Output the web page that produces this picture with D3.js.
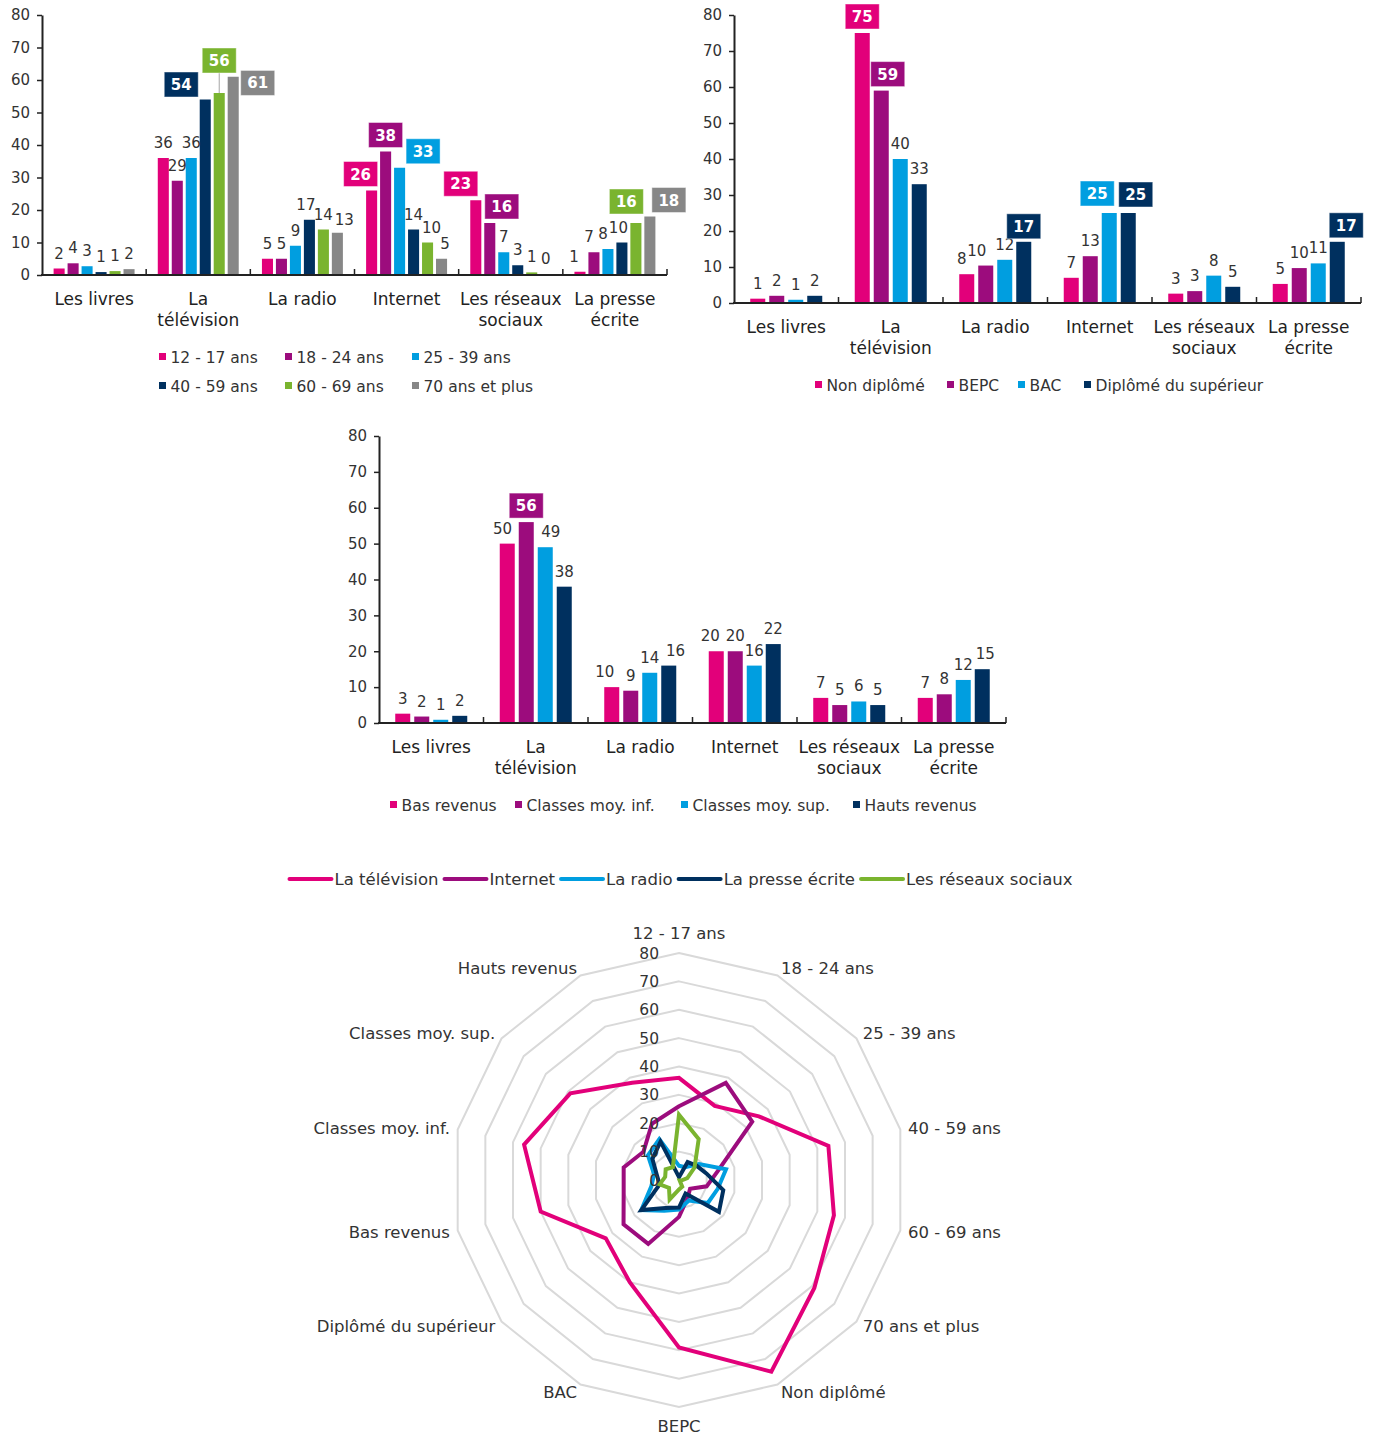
<!DOCTYPE html>
<html lang="fr">
<head>
<meta charset="UTF-8">
<title>Médias par âge, diplôme et revenus</title>
<script src="https://d3js.org/d3.v7.min.js"></script>
<style>
  body { margin: 0; background: #fff; }
  svg { display: block; font-family: "DejaVu Sans", Verdana, sans-serif; }
  .tick text { font-family: "DejaVu Sans", Verdana, sans-serif; font-size: 15px; fill: #333; }
  .val { font-size: 15px; fill: #333; text-anchor: middle; }
  .cat { font-size: 17px; fill: #222; text-anchor: middle; }
  .leg { font-size: 15.5px; fill: #333; }
  .box-text { font-size: 15px; font-weight: bold; fill: #fff; text-anchor: middle; }
  .radar-lab { font-size: 16.5px; fill: #333; }
</style>
</head>
<body>
<svg id="chart" width="1373" height="1438"></svg>
<script>
const categories = ["Les livres", "La télévision", "La radio", "Internet", "Les réseaux sociaux", "La presse écrite"];

// par âge (une ligne par classe d'âge, une valeur par média)
const ageLabels = ["12 - 17 ans", "18 - 24 ans", "25 - 39 ans", "40 - 59 ans", "60 - 69 ans", "70 ans et plus"];
const ageValues = [
  [2, 36, 5, 26, 23, 1],
  [3.6, 29, 5, 38, 16, 7],
  [2.7, 36, 9, 33, 7, 8],
  [0.9, 54, 17, 14, 3, 10],
  [1.2, 56, 14, 10, 0.8, 16],
  [1.8, 61, 13, 5, 0.3, 18]
];

// par diplôme
const eduLabels = ["Non diplômé", "BEPC", "BAC", "Diplômé du supérieur"];
const eduValues = [
  [1.2, 75, 8, 7, 2.6, 5.3],
  [2, 59, 10.4, 13, 3.3, 9.7],
  [0.9, 40, 12, 25, 7.6, 11],
  [2, 33, 17, 25, 4.5, 17]
];

// par revenus
const incLabels = ["Bas revenus", "Classes moy. inf.", "Classes moy. sup.", "Hauts revenus"];
const incValues = [
  [2.6, 50, 10, 20, 7, 7],
  [1.8, 56, 9, 20, 5, 8],
  [0.9, 49, 14, 16, 6, 12],
  [2, 38, 16, 22, 5, 15]
];

const yTicks = [0, 10, 20, 30, 40, 50, 60, 70, 80];

const pink = "#e2007a", purple = "#9c0c7d", sky = "#009ee0", navy = "#00305f", green = "#7ab42f", grey = "#878787";

// étiquettes encadrées : série, média, décalage horizontal / vertical
const ageCallouts = [
  {s: 3, c: 1, dx: -24, dy: 1.5}, {s: 4, c: 1, dx: 0, dy: -16, leader: true}, {s: 5, c: 1, dx: 24.5, dy: 22.7},
  {s: 0, c: 3, dx: -11, dy: 0}, {s: 1, c: 3, dx: 0, dy: 0}, {s: 2, c: 3, dx: 23.5, dy: 0},
  {s: 0, c: 4, dx: -15, dy: 0}, {s: 1, c: 4, dx: 12, dy: 0},
  {s: 4, c: 5, dx: -9.5, dy: -5}, {s: 5, c: 5, dx: 19, dy: 0}
];
const eduCallouts = [
  {s: 0, c: 1, dx: 0, dy: 0}, {s: 1, c: 1, dx: 6.5, dy: 0}, {s: 3, c: 2, dx: 0, dy: 1},
  {s: 2, c: 3, dx: -12, dy: -3}, {s: 3, c: 3, dx: 7.5, dy: -2}, {s: 3, c: 5, dx: 9, dy: 0}
];
const incCallouts = [{s: 1, c: 1, dx: 0, dy: 0}];

// petits décalages des étiquettes simples (pour éviter les chevauchements)
const ageNudges = [
  {s: 3, c: 2, dx: -3.5, dy: 0}, {s: 5, c: 2, dx: 7, dy: 2},
  {s: 4, c: 3, dx: 4, dy: 0}, {s: 5, c: 3, dx: 3.5, dy: 0},
  {s: 0, c: 5, dx: -6, dy: 0}, {s: 1, c: 5, dx: -5, dy: 0}, {s: 2, c: 5, dx: -5, dy: 0}, {s: 3, c: 5, dx: -3.5, dy: 0}
];
const eduNudges = [{s: 0, c: 2, dx: -5, dy: 0}, {s: 1, c: 2, dx: -9, dy: 0}];
const incNudges = [
  {s: 0, c: 1, dx: -4.7, dy: 0}, {s: 2, c: 1, dx: 5.5, dy: 0},
  {s: 0, c: 2, dx: -7, dy: 0}, {s: 3, c: 2, dx: 6.7, dy: 0},
  {s: 0, c: 3, dx: -6, dy: 0}, {s: 3, c: 5, dx: 3, dy: 0}
];

const svg = d3.select("#chart");

function wrap(textSel, width) {
  textSel.each(function () {
    const text = d3.select(this);
    const words = text.text().split(" ");
    const x = text.attr("x"), y = text.attr("y");
    text.text(null);
    let line = [];
    let lineNo = 0;
    let tspan = text.append("tspan").attr("x", x).attr("y", y);
    for (const w of words) {
      line.push(w);
      tspan.text(line.join(" "));
      if (tspan.node().getComputedTextLength() > width && line.length > 1) {
        line.pop();
        tspan.text(line.join(" "));
        line = [w];
        lineNo++;
        tspan = text.append("tspan").attr("x", x).attr("y", +y + lineNo * 21).text(w);
      }
    }
  });
}

function barChart(cfg) {
  const g = svg.append("g");
  const x = d3.scaleBand().domain(categories).range([cfg.x0, cfg.x1]);
  const xs = d3.scaleBand().domain(d3.range(cfg.labels.length))
    .range([0, x.bandwidth()]).paddingInner(0.21).paddingOuter(cfg.outer);
  const y = d3.scaleLinear().domain([0, 80]).range([cfg.yBase, cfg.yTop]);

  // axe vertical
  const yAxis = g.append("g")
    .attr("transform", `translate(${cfg.x0},0)`)
    .call(d3.axisLeft(y).tickValues(yTicks).tickSize(5).tickSizeOuter(0).tickPadding(7));
  yAxis.select(".domain").attr("stroke", "#222").attr("stroke-width", 2);
  yAxis.selectAll(".tick line").attr("stroke", "#222").attr("stroke-width", 1.5);

  // barres
  cfg.values.forEach((serie, si) => {
    g.append("g").selectAll("rect")
      .data(serie)
      .join("rect")
      .attr("x", (d, ci) => x(categories[ci]) + xs(si))
      .attr("y", d => y(d))
      .attr("width", xs.bandwidth())
      .attr("height", d => cfg.yBase - y(d))
      .attr("fill", cfg.colors[si]);
  });

  // axe horizontal
  g.append("line")
    .attr("x1", cfg.x0 - 1).attr("x2", cfg.x1)
    .attr("y1", cfg.yBase).attr("y2", cfg.yBase)
    .attr("stroke", "#222").attr("stroke-width", 2);
  g.append("g").selectAll("line")
    .data(categories)
    .join("line")
    .attr("x1", d => x(d) + x.bandwidth()).attr("x2", d => x(d) + x.bandwidth())
    .attr("y1", cfg.yBase).attr("y2", cfg.yBase - 6)
    .attr("stroke", "#222").attr("stroke-width", 1.5);

  g.append("g").selectAll("text")
    .data(categories)
    .join("text")
    .attr("class", "cat")
    .attr("x", d => x(d) + x.bandwidth() / 2)
    .attr("y", cfg.yBase + 30)
    .text(d => d)
    .call(wrap, x.bandwidth());

  // étiquettes de valeurs
  const isCallout = (si, ci) => cfg.callouts.some(k => k.s === si && k.c === ci);
  const nudge = (si, ci) => cfg.nudges.find(k => k.s === si && k.c === ci) || {dx: 0, dy: 0};
  cfg.values.forEach((serie, si) => {
    g.append("g").selectAll("text")
      .data(serie.map((v, ci) => ({v, ci})).filter(d => !isCallout(si, d.ci)))
      .join("text")
      .attr("class", "val")
      .attr("x", d => x(categories[d.ci]) + xs(si) + xs.bandwidth() / 2 + nudge(si, d.ci).dx)
      .attr("y", d => y(d.v) - 10 + nudge(si, d.ci).dy)
      .text(d => Math.round(d.v));
  });

  cfg.callouts.forEach(k => {
    const v = cfg.values[k.s][k.c];
    const cx = x(categories[k.c]) + xs(k.s) + xs.bandwidth() / 2;
    const bottom = y(v) - 4 + k.dy;
    if (k.leader) {
      g.append("line")
        .attr("x1", cx + k.dx).attr("x2", cx)
        .attr("y1", bottom).attr("y2", y(v))
        .attr("stroke", "#a6a6a6").attr("stroke-width", 1);
    }
    g.append("rect")
      .attr("x", cx + k.dx - 17).attr("y", bottom - 25)
      .attr("width", 34).attr("height", 25)
      .attr("fill", cfg.colors[k.s])
      .attr("stroke", "#fff").attr("stroke-opacity", 0.45).attr("stroke-width", 1);
    g.append("text")
      .attr("class", "box-text")
      .attr("x", cx + k.dx).attr("y", bottom - 7)
      .text(Math.round(v));
  });

  // légende
  const leg = g.append("g").selectAll("g")
    .data(cfg.labels)
    .join("g")
    .attr("transform", (d, i) => `translate(${cfg.legendX[i]},${cfg.yBase + 88 + cfg.legendRow[i] * 29})`);
  leg.append("rect")
    .attr("x", 0).attr("y", -10).attr("width", 7).attr("height", 7)
    .attr("fill", (d, i) => cfg.colors[i]);
  leg.append("text")
    .attr("class", "leg")
    .attr("x", 11.5).attr("y", 0)
    .text(d => d);
}

barChart({
  x0: 42, x1: 667, yTop: 15, yBase: 275, outer: 0.83,
  labels: ageLabels, values: ageValues,
  colors: [pink, purple, sky, navy, green, grey],
  callouts: ageCallouts, nudges: ageNudges,
  legendX: [159, 285, 412, 159, 285, 412], legendRow: [0, 0, 0, 1, 1, 1]
});

barChart({
  x0: 734, x1: 1361, yTop: 15, yBase: 303, outer: 0.855,
  labels: eduLabels, values: eduValues,
  colors: [pink, purple, sky, navy],
  callouts: eduCallouts, nudges: eduNudges,
  legendX: [815, 947, 1018, 1084], legendRow: [0, 0, 0, 0]
});

barChart({
  x0: 379, x1: 1006, yTop: 436, yBase: 723, outer: 0.855,
  labels: incLabels, values: incValues,
  colors: [pink, purple, sky, navy],
  callouts: incCallouts, nudges: incNudges,
  legendX: [390, 515, 681, 853], legendRow: [0, 0, 0, 0]
});

// ---- radar ----
const radarAxes = [...ageLabels, ...eduLabels, ...incLabels];
const radarMedia = [
  {name: "La télévision", idx: 1, color: pink},
  {name: "Internet", idx: 3, color: purple},
  {name: "La radio", idx: 2, color: sky},
  {name: "La presse écrite", idx: 5, color: navy},
  {name: "Les réseaux sociaux", idx: 4, color: green}
];
const allGroups = [...ageValues, ...eduValues, ...incValues];

const cx = 679, cy = 1180;
const r = d3.scaleLinear().domain([0, 80]).range([0, 227]);
const n = radarAxes.length;
const ang = i => i * 2 * Math.PI / n;
const rg = svg.append("g").attr("transform", `translate(${cx},${cy})`);

rg.append("g").selectAll("path")
  .data(yTicks.filter(t => t > 0))
  .join("path")
  .attr("d", t => d3.lineRadial().angle((d, i) => ang(i)).radius(() => r(t)).curve(d3.curveLinearClosed)(radarAxes))
  .attr("fill", "none")
  .attr("stroke", "#d9d9d9")
  .attr("stroke-width", 2);

const radarLine = d3.lineRadial()
  .angle((d, i) => ang(i))
  .radius(d => r(d))
  .curve(d3.curveLinearClosed);

rg.append("g").selectAll("path")
  .data(radarMedia)
  .join("path")
  .attr("d", m => radarLine(allGroups.map(s => s[m.idx])))
  .attr("fill", "none")
  .attr("stroke", m => m.color)
  .attr("stroke-width", 4)
  .attr("stroke-linejoin", "miter");

rg.append("g").selectAll("text")
  .data(yTicks)
  .join("text")
  .attr("class", "radar-lab")
  .attr("x", -20)
  .attr("y", t => -r(t))
  .attr("dy", "0.36em")
  .attr("text-anchor", "end")
  .style("font-size", "15.5px")
  .text(t => t);

rg.append("g").selectAll("text")
  .data(radarAxes)
  .join("text")
  .attr("class", "radar-lab")
  .attr("x", (d, i) => 235 * Math.sin(ang(i)))
  .attr("y", (d, i) => -235 * Math.cos(ang(i)))
  .attr("text-anchor", (d, i) => {
    const s = Math.sin(ang(i));
    return s > 0.1 ? "start" : s < -0.1 ? "end" : "middle";
  })
  .attr("dy", (d, i) => {
    const c = Math.cos(ang(i));
    return c > 0.95 ? "-0.35em" : c < -0.95 ? "1.05em" : "0.36em";
  })
  .text(d => d);

// légende du radar
const rl = svg.append("g").attr("transform", "translate(0,879)");
const items = rl.selectAll("g").data(radarMedia).join("g");
items.append("line")
  .attr("x1", 0).attr("x2", 42).attr("y1", 0).attr("y2", 0)
  .attr("stroke", d => d.color).attr("stroke-width", 4).attr("stroke-linecap", "round");
items.append("text")
  .attr("class", "radar-lab")
  .attr("x", 45).attr("dy", "0.36em")
  .text(d => d.name);
const widths = [];
items.each(function () {
  widths.push(45 + d3.select(this).select("text").node().getComputedTextLength());
});
const total = d3.sum(widths) + 6 * (widths.length - 1);
let pos = 681 - total / 2;
items.attr("transform", (d, i) => {
  const t = `translate(${pos},0)`;
  pos += widths[i] + 6;
  return t;
});
</script>
</body>
</html>
